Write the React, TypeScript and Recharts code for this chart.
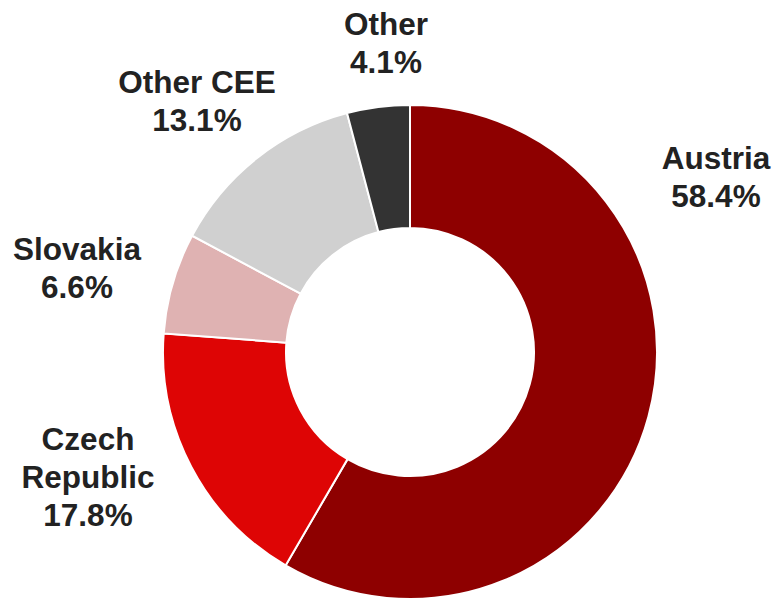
import { PieChart, Pie, Cell } from "recharts";

const regions = ["Austria", "Czech Republic", "Slovakia", "Other CEE", "Other"];
const shares = [58.4, 17.8, 6.6, 13.1, 4.1];
const colors = ["#8e0000", "#de0505", "#dfb2b2", "#d0d0d0", "#333333"];

// label lines per slice (name split for wrapping) and anchor offsets from centre
const labelLines = [["Austria"], ["Czech", "Republic"], ["Slovakia"], ["Other CEE"], ["Other"]];
const labelPos = [
  { dx: 306, y: 169 },
  { dx: -322, y: 450 },
  { dx: -333, y: 260 },
  { dx: -213, y: 93 },
  { dx: -24, y: 35 },
];

const data = regions.map((name, i) => ({ name, value: shares[i] }));

// recharts adds the default 5px margin to cx/cy
const CX = 410;
const CY = 352;
const M = 5;

function renderLabel(props: any) {
  const { index, value } = props;
  const p = labelPos[index];
  const lines = [...labelLines[index], `${value.toFixed(1)}%`];
  const x = CX + p.dx;
  return (
    <text
      x={x}
      y={p.y}
      textAnchor="middle"
      fill="#222"
      fontFamily="'Liberation Sans', Arial, sans-serif"
      fontWeight="bold"
      fontSize={31.5}
    >
      {lines.map((l, i) => (
        <tspan key={i} x={x} y={p.y + i * 38}>
          {l}
        </tspan>
      ))}
    </text>
  );
}

export default function App() {
  return (
    <div style={{ position: "absolute", left: 0, top: 0, width: 776, height: 599, background: "#fff" }}>
      <PieChart width={776} height={599}>
        <Pie
          data={data}
          dataKey="value"
          cx={CX - M}
          cy={CY - M}
          innerRadius={124}
          outerRadius={247}
          startAngle={90}
          endAngle={-270}
          stroke="#fff"
          strokeWidth={2}
          label={renderLabel}
          labelLine={false}
          isAnimationActive={false}
        >
          {data.map((d, i) => (
            <Cell key={d.name} fill={colors[i]} />
          ))}
        </Pie>
      </PieChart>
    </div>
  );
}
